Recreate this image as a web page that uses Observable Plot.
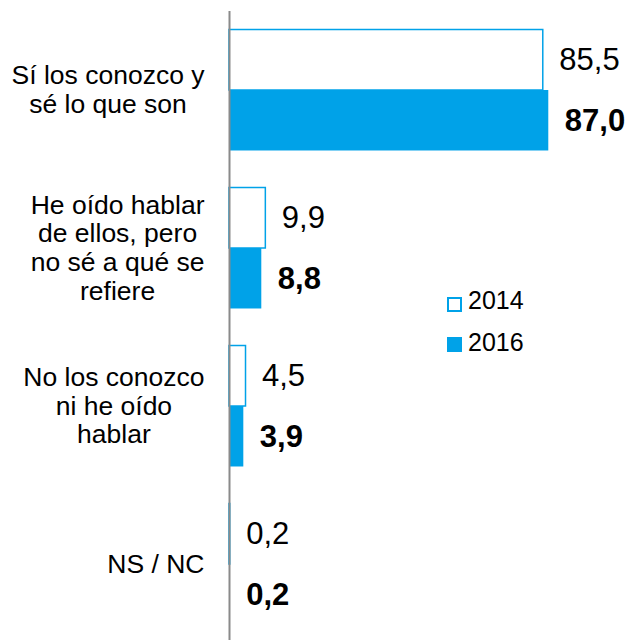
<!DOCTYPE html>
<html><head><meta charset="utf-8">
<script src="https://cdn.jsdelivr.net/npm/d3@7"></script>
<script src="https://cdn.jsdelivr.net/npm/@observablehq/plot@0.6"></script>
<style>
html,body{margin:0;padding:0;background:#fff;overflow:hidden;}
#wrap{position:relative;width:628px;height:640px;overflow:hidden;font-family:"Liberation Sans",Arial,sans-serif;}
#wrap svg{display:block;}
.lg{position:absolute;font-size:25px;line-height:25px;color:#000;white-space:nowrap;}
.sw{position:absolute;width:15px;height:15px;box-sizing:border-box;}
</style></head><body><div id="wrap"></div>
<script>
// ---- data ----
const categories = [
  "Sí los conozco y\nsé lo que son",
  "He oído hablar\nde ellos, pero\nno sé a qué se\nrefiere",
  "No los conozco\nni he oído\nhablar",
  "NS / NC"
];
const years = ["2014", "2016"];
const values2014 = [85.5, 9.9, 4.5, 0.2];
const values2016 = [87.0, 8.8, 3.9, 0.2];

const rows = categories.flatMap((c, i) => [
  {category: c, year: years[0], value: values2014[i]},
  {category: c, year: years[1], value: values2016[i]}
]);

// ---- layout ----
const W = 628, H = 643, mTop = 11;
const blue = "#00A2E8";
const axisGray = "#8A8A8A";
const font = "'Liberation Sans', Arial, sans-serif";
const bw = (H - mTop) / categories.length;
const inner = d3.scaleBand().domain(years).range([0, bw]).paddingInner(0).paddingOuter(0.306);
const ins = y => ({insetTop: inner(y), insetBottom: bw - inner(y) - inner.bandwidth()});
const mid = y => inner(y) + inner.bandwidth() / 2 - bw / 2;
const fmt = v => d3.format(".1f")(v).replace(".", ",");

const ctx = document.createElement("canvas").getContext("2d");
const labelSize = 26.5;
ctx.font = `${labelSize}px "Liberation Sans"`;
const maxW = s => Math.max(...s.split("\n").map(l => ctx.measureText(l).width));

const r14 = rows.filter(d => d.year === years[0]);
const r16 = rows.filter(d => d.year === years[1]);

const chart = Plot.plot({
  width: W, height: H,
  marginTop: mTop, marginBottom: 0, marginLeft: 221, marginRight: 32,
  style: {fontFamily: font, background: "#fff", color: "#000"},
  x: {domain: [0, 100], range: [229, 596], axis: null},
  y: {domain: categories, padding: 0, axis: null},
  marks: [
    Plot.barX(r14, {x1: 0, x2: "value", y: "category", fill: "#fff", stroke: blue, strokeWidth: 1.5, ...ins(years[0])}),
    Plot.barX(r16, {x1: 0, x2: "value", y: "category", fill: blue, ...ins(years[1])}),
    Plot.text(r14, {x: "value", y: "category", text: d => fmt(d.value), dx: 16, dy: mid(years[0]), textAnchor: "start", fontSize: 31, fill: "#000"}),
    Plot.text(r16, {x: "value", y: "category", text: d => fmt(d.value), dx: 16, dy: mid(years[1]), textAnchor: "start", fontSize: 31, fontWeight: "bold", fill: "#000"}),
    ...categories.map(c => Plot.text([c], {y: d => d, text: d => d, frameAnchor: "left", textAnchor: "middle", dx: -(17 + maxW(c) / 2), dy: -1, fontSize: labelSize, lineHeight: 1.08, fill: "#000"})),
    Plot.ruleY(categories, {y: d => d, x2: 0, dy: -bw / 2, stroke: axisGray, strokeWidth: 2}),
    Plot.ruleX([0], {stroke: axisGray, strokeWidth: 2})
  ]
});

const wrap = document.getElementById("wrap");
wrap.appendChild(chart);

// legend
const legend = [
  {label: years[0], fill: "#fff", top: 297, textTop: 288},
  {label: years[1], fill: blue, top: 337, textTop: 330}
];
for (const l of legend) {
  const sw = document.createElement("div");
  sw.className = "sw";
  sw.style.left = "447px";
  sw.style.top = l.top + "px";
  sw.style.background = l.fill;
  sw.style.border = "2px solid " + blue;
  wrap.appendChild(sw);
  const t = document.createElement("div");
  t.className = "lg";
  t.style.left = "468px";
  t.style.top = l.textTop + "px";
  t.textContent = l.label;
  wrap.appendChild(t);
}
</script>
</body></html>
